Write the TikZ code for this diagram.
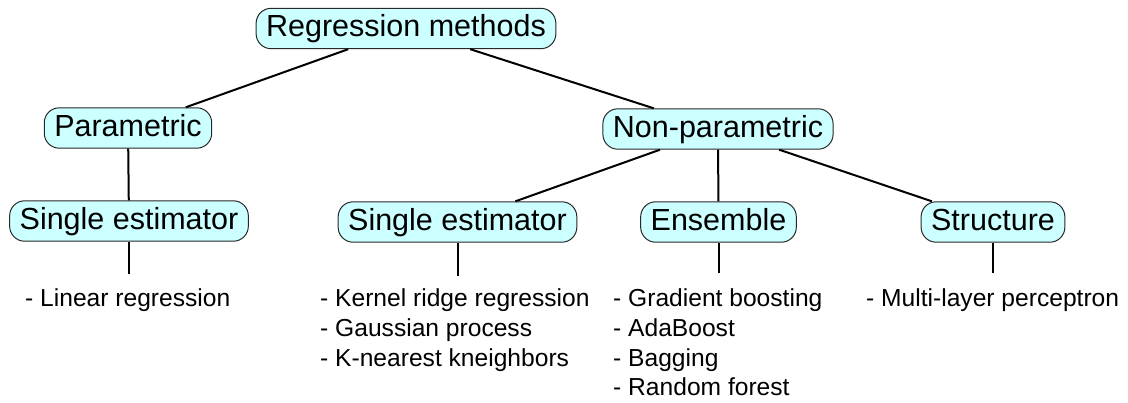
\documentclass[tikz,border=0pt]{standalone}
\usepackage{fontspec}
\setmainfont{Liberation Sans}
\definecolor{boxfill}{RGB}{204,255,255}
\definecolor{boxline}{RGB}{40,40,40}
\tikzset{
  catbox/.style={draw=boxline, line width=1pt, fill=boxfill, rounded corners=15pt,
    font=\fontsize{30.5}{36}\selectfont, text height=22pt, text depth=6pt,
    inner xsep=10pt, inner ysep=6.2pt},
  itemline/.style={anchor=base west, inner sep=0pt, font=\fontsize{24.6}{29}\selectfont},
  link/.style={line width=2pt, black}
}
\begin{document}
\begin{tikzpicture}[x=1pt,y=-1pt]
\useasboundingbox (0,0) rectangle (1128,402);
% category nodes
\node[catbox] (root) at (406,28.5) {Regression methods};
\node[catbox] (param) at (128,128) {Parametric};
\node[catbox] (nonparam) at (718,129) {Non-parametric};
\node[catbox] (singleA) at (129,221) {Single estimator};
\node[catbox] (singleB) at (457.5,222) {Single estimator};
\node[catbox] (ens) at (718.5,222) {Ensemble};
\node[catbox] (struct) at (993,222) {Structure};
% tree links
\draw[link] (root) -- (param);
\draw[link] (root) -- (nonparam);
\draw[link] (param) -- (singleA);
\draw[link] (nonparam) -- (singleB);
\draw[link] (nonparam) -- (ens);
\draw[link] (nonparam) -- (struct);
% stubs below leaf categories
\coordinate (stubA) at (129,274);
\coordinate (stubB) at (457.5,276);
\coordinate (stubC) at (718.5,273);
\coordinate (stubD) at (993,273);
\draw[link] (singleA.south) -- (stubA);
\draw[link] (singleB.south) -- (stubB);
\draw[link] (ens.south) -- (stubC);
\draw[link] (struct.south) -- (stubD);
% method lists
\node[itemline] (la1) at (25,306.5) {- Linear regression};
\node[itemline] (lb1) at (320,306.5) {- Kernel ridge regression};
\node[itemline] (lb2) at (320,336) {- Gaussian process};
\node[itemline] (lb3) at (320,366) {- K-nearest kneighbors};
\node[itemline] (lc1) at (613,306) {- Gradient boosting};
\node[itemline] (lc2) at (613,336) {- AdaBoost};
\node[itemline] (lc3) at (613,366) {- Bagging};
\node[itemline] (lc4) at (613,395) {- Random forest};
\node[itemline] (ld1) at (866,306.5) {- Multi-layer perceptron};
\end{tikzpicture}
\end{document}
